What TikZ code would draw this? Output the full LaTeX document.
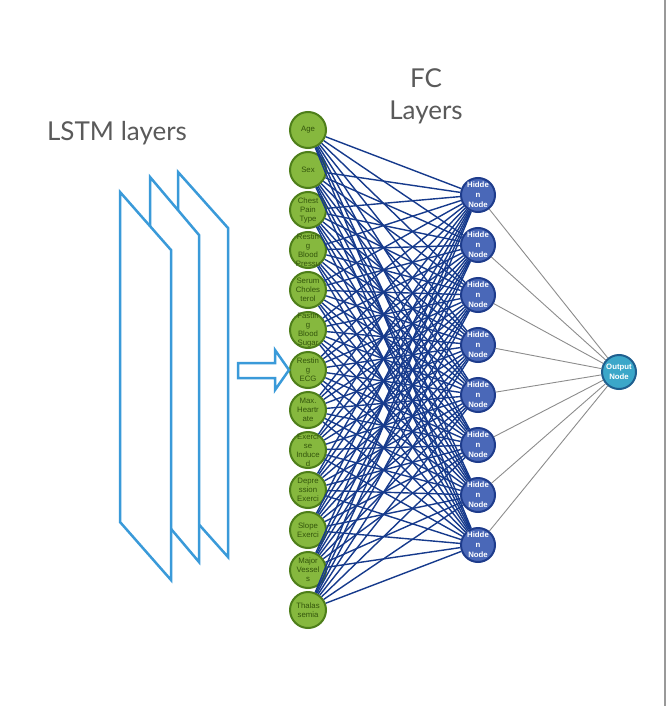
\documentclass[tikz,border=0pt]{standalone}
\usepackage{fontspec}
\setmainfont{Lato}
\newfontfamily\nodefont{Liberation Sans}
\usetikzlibrary{positioning}
\definecolor{inFill}{HTML}{86B83E}
\definecolor{inBorder}{HTML}{4E7F1A}
\definecolor{inText}{HTML}{33550C}
\definecolor{hidFill}{HTML}{4A68B8}
\definecolor{hidBorder}{HTML}{1E3C8C}
\definecolor{outFill}{HTML}{3BA7C9}
\definecolor{outBorder}{HTML}{1F5F8F}
\definecolor{edgeBlue}{HTML}{163A8C}
\definecolor{lstmBlue}{HTML}{3A9AD9}
\definecolor{labelGray}{HTML}{5A5A5A}
\tikzset{
    input node/.style = {
        circle,
        draw = inBorder,
        fill = inFill,
        line width = 2pt,
        minimum size = 36pt,
        inner sep = 0pt,
        },
    in label/.style = {
        inner sep = 0pt,
        align = center,
        text = inText,
        font = \nodefont\fontsize{7.8}{9}\selectfont,
        },
    hidden node/.style = {
        circle,
        draw = hidBorder,
        fill = hidFill,
        line width = 2pt,
        minimum size = 34pt,
        inner sep = 0pt,
        },
    hid label/.style = {
        inner sep = 0pt,
        align = center,
        text = white,
        font = \nodefont\bfseries\fontsize{7.8}{10}\selectfont,
        },
    output node/.style = {
        circle,
        draw = outBorder,
        fill = outFill,
        line width = 2pt,
        minimum size = 34pt,
        inner sep = 0pt,
        },
    fc edge/.style = {
        draw = edgeBlue,
        line width = 1.4pt,
        },
    out edge/.style = {
        draw = gray!90,
        line width = 0.9pt,
        },
    lstm panel/.style = {
        draw = lstmBlue,
        line width = 2.5pt,
        fill = white,
        },
    layer label/.style = {
        text = labelGray,
        font = \fontsize{26}{32}\selectfont,
        },
}

\begin{document}
\begin{tikzpicture}[x=1pt, y=-1pt]
    \useasboundingbox (0,0) rectangle (667,706);
    \draw[gray!80, line width=2pt] (665,0) -- (665,706);

    % LSTM stack, back to front
    \draw[lstm panel] (178,172) -- (228,228) -- (228,557) -- (178,501) -- cycle;
    \draw[lstm panel] (150,177) -- (199,235) -- (199,562) -- (150,504) -- cycle;
    \draw[lstm panel] (120,192) -- (171,250) -- (171,580) -- (120,522) -- cycle;
    \node[layer label] (lstm) at (117,133) {LSTM layers};
    \node[layer label, align=center] (fc) at (426,96) {FC\\Layers};

    % input features
    \node[input node, label={[in label]center:Age}] (in1) at (308,130) {};
    \node[input node, below=2pt of in1, label={[in label]center:Sex}] (in2) {};
    \node[input node, below=2pt of in2, label={[in label]center:Chest\\Pain\\Type}] (in3) {};
    \node[input node, below=2pt of in3, label={[in label]center:Restin\\g\\Blood\\Pressu}] (in4) {};
    \node[input node, below=2pt of in4, label={[in label]center:Serum\\Choles\\terol}] (in5) {};
    \node[input node, below=2pt of in5, label={[in label]center:Fastin\\g\\Blood\\Sugar}] (in6) {};
    \node[input node, below=2pt of in6, label={[in label]center:Restin\\g\\ECG}] (in7) {};
    \node[input node, below=2pt of in7, label={[in label]center:Max.\\Heartr\\ate}] (in8) {};
    \node[input node, below=2pt of in8, label={[in label]center:Exerci\\se\\Induce\\d}] (in9) {};
    \node[input node, below=2pt of in9, label={[in label]center:Depre\\ssion\\Exerci}] (in10) {};
    \node[input node, below=2pt of in10, label={[in label]center:Slope\\Exerci}] (in11) {};
    \node[input node, below=2pt of in11, label={[in label]center:Major\\Vessel\\s}] (in12) {};
    \node[input node, below=2pt of in12, label={[in label]center:Thalas\\semia}] (in13) {};

    % hidden layer
    \node[hidden node, label={[hid label]center:Hidde\\n\\Node}] (hid1) at (478,195) {};
    \node[hidden node, below=14pt of hid1, label={[hid label]center:Hidde\\n\\Node}] (hid2) {};
    \node[hidden node, below=14pt of hid2, label={[hid label]center:Hidde\\n\\Node}] (hid3) {};
    \node[hidden node, below=14pt of hid3, label={[hid label]center:Hidde\\n\\Node}] (hid4) {};
    \node[hidden node, below=14pt of hid4, label={[hid label]center:Hidde\\n\\Node}] (hid5) {};
    \node[hidden node, below=14pt of hid5, label={[hid label]center:Hidde\\n\\Node}] (hid6) {};
    \node[hidden node, below=14pt of hid6, label={[hid label]center:Hidde\\n\\Node}] (hid7) {};
    \node[hidden node, below=14pt of hid7, label={[hid label]center:Hidde\\n\\Node}] (hid8) {};

    \node[output node, label={[hid label]center:Output\\Node}] (out) at (619,372) {};

    % block arrow into the inputs
    \draw[lstmBlue, line width=2.5pt, fill=white]
        (238,363) -- (275,363) -- (275,350) -- (in7.west) -- (275,390) -- (275,378) -- (238,378) -- cycle;

    \foreach \i in {1,...,13}
        \foreach \j in {1,...,8}
            \path[fc edge] (in\i) -- (hid\j);
    \foreach \j in {1,...,8}
        \path[out edge] (hid\j) -- (out);
\end{tikzpicture}
\end{document}
